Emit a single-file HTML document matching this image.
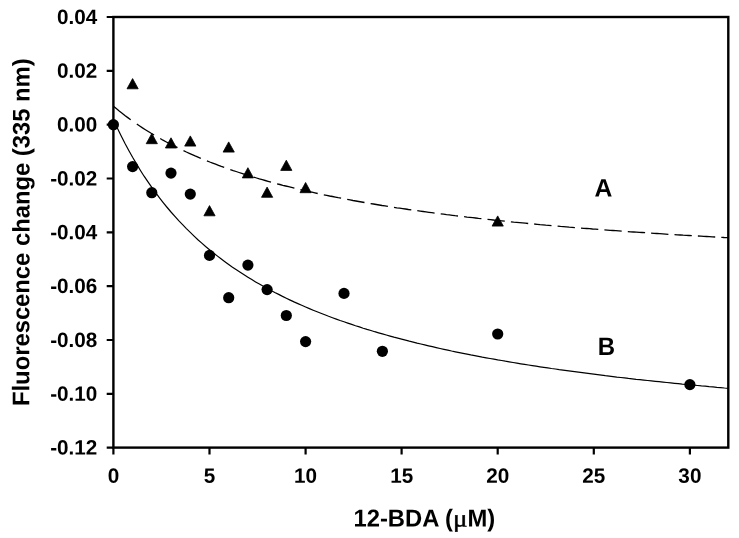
<!DOCTYPE html>
<html><head><meta charset="utf-8"><title>Fluorescence change</title>
<style>html,body{margin:0;padding:0;background:#fff}svg{display:block}text{font-family:"Liberation Sans",sans-serif;font-weight:bold;fill:#000}</style></head><body>
<svg width="739" height="538" viewBox="0 0 739 538">
<rect width="739" height="538" fill="#fff"/>
<path d="M113.4 106.2 L116.3 108.6 L119.2 111.0 L122.1 113.2 L124.9 115.5 L127.8 117.6 L130.7 119.7M136.8 124.0 L139.7 126.0 L142.5 127.9 L145.4 129.7 L148.3 131.5 L151.2 133.3 L154.1 135.0M160.2 138.5 L163.0 140.2 L165.9 141.7 L168.8 143.3 L171.7 144.8 L174.6 146.2 L177.5 147.7M183.5 150.6 L186.4 152.0 L189.3 153.3 L192.2 154.6 L195.1 155.9 L198.0 157.1 L200.8 158.3M206.9 160.8 L209.8 162.0 L212.7 163.1 L215.6 164.2 L218.5 165.3 L221.3 166.4 L224.2 167.4M230.3 169.6 L233.2 170.6 L236.1 171.5 L239.0 172.5 L241.8 173.4 L244.7 174.4 L247.6 175.3M253.7 177.1 L256.6 178.0 L259.4 178.9 L262.3 179.7 L265.2 180.5 L268.1 181.3 L271.0 182.1M277.1 183.8 L279.9 184.5 L282.8 185.3 L285.7 186.0 L288.6 186.7 L291.5 187.4 L294.4 188.1M300.4 189.6 L303.3 190.3 L306.2 190.9 L309.1 191.6 L312.0 192.2 L314.9 192.8 L317.7 193.5M323.8 194.8 L326.7 195.4 L329.6 196.0 L332.5 196.5 L335.4 197.1 L338.2 197.7 L341.1 198.2M347.2 199.4 L350.1 199.9 L353.0 200.5 L355.9 201.0 L358.7 201.5 L361.6 202.0 L364.5 202.5M370.6 203.6 L373.5 204.0 L376.3 204.5 L379.2 205.0 L382.1 205.5 L385.0 205.9 L387.9 206.4M394.0 207.3 L396.8 207.8 L399.7 208.2 L402.6 208.6 L405.5 209.0 L408.4 209.5 L411.3 209.9M417.3 210.7 L420.2 211.1 L423.1 211.5 L426.0 211.9 L428.9 212.3 L431.8 212.7 L434.6 213.1M440.7 213.9 L443.6 214.2 L446.5 214.6 L449.4 214.9 L452.3 215.3 L455.1 215.7 L458.0 216.0M464.1 216.7 L467.0 217.1 L469.9 217.4 L472.8 217.7 L475.6 218.0 L478.5 218.4 L481.4 218.7M487.5 219.4 L490.4 219.7 L493.2 220.0 L496.1 220.3 L499.0 220.6 L501.9 220.9 L504.8 221.2M510.9 221.8 L513.7 222.1 L516.6 222.3 L519.5 222.6 L522.4 222.9 L525.3 223.2 L528.2 223.5M534.2 224.0 L537.1 224.3 L540.0 224.6 L542.9 224.8 L545.8 225.1 L548.7 225.3 L551.5 225.6M557.6 226.1 L560.5 226.4 L563.4 226.6 L566.3 226.8 L569.2 227.1 L572.0 227.3 L574.9 227.6M581.0 228.1 L583.9 228.3 L586.8 228.5 L589.6 228.7 L592.5 229.0 L595.4 229.2 L598.3 229.4M604.4 229.9 L607.3 230.1 L610.1 230.3 L613.0 230.5 L615.9 230.7 L618.8 230.9 L621.7 231.1M627.8 231.6 L630.6 231.8 L633.5 232.0 L636.4 232.2 L639.3 232.4 L642.2 232.5 L645.1 232.7M651.1 233.1 L654.0 233.3 L656.9 233.5 L659.8 233.7 L662.7 233.9 L665.6 234.1 L668.4 234.3M674.5 234.6 L677.4 234.8 L680.3 235.0 L683.2 235.2 L686.1 235.3 L688.9 235.5 L691.8 235.7M697.9 236.0 L700.8 236.2 L703.7 236.4 L706.5 236.5 L709.4 236.7 L712.3 236.9 L715.2 237.0M721.3 237.4 L722.4 237.4 L723.6 237.5 L724.8 237.6 L726.0 237.6 L727.1 237.7 L728.3 237.7" fill="none" stroke="#000" stroke-width="1.3"/>
<path d="M113.4 119.5 L117.2 127.8 L121.1 135.7 L124.9 143.3 L128.8 150.5 L132.6 157.3 L136.5 163.9 L140.3 170.2 L144.1 176.2 L148.0 181.9 L151.8 187.4 L155.7 192.7 L159.5 197.8 L163.4 202.8 L167.2 207.5 L171.0 212.0 L174.9 216.4 L178.7 220.6 L182.6 224.7 L186.4 228.6 L190.3 232.4 L194.1 236.1 L197.9 239.7 L201.8 243.1 L205.6 246.5 L209.5 249.7 L213.3 252.8 L217.2 255.9 L221.0 258.8 L224.9 261.7 L228.7 264.5 L232.5 267.2 L236.4 269.8 L240.2 272.3 L244.1 274.8 L247.9 277.2 L251.8 279.6 L255.6 281.9 L259.4 284.1 L263.3 286.3 L267.1 288.4 L271.0 290.5 L274.8 292.5 L278.7 294.4 L282.5 296.4 L286.3 298.2 L290.2 300.1 L294.0 301.9 L297.9 303.6 L301.7 305.3 L305.6 307.0 L309.4 308.6 L313.2 310.2 L317.1 311.8 L320.9 313.3 L324.8 314.8 L328.6 316.3 L332.5 317.7 L336.3 319.1 L340.1 320.5 L344.0 321.8 L347.8 323.1 L351.7 324.4 L355.5 325.7 L359.4 326.9 L363.2 328.2 L367.0 329.4 L370.9 330.5 L374.7 331.7 L378.6 332.8 L382.4 333.9 L386.3 335.0 L390.1 336.1 L393.9 337.2 L397.8 338.2 L401.6 339.2 L405.5 340.2 L409.3 341.2 L413.2 342.1 L417.0 343.1 L420.9 344.0 L424.7 344.9 L428.5 345.8 L432.4 346.7 L436.2 347.6 L440.1 348.5 L443.9 349.3 L447.8 350.1 L451.6 351.0 L455.4 351.8 L459.3 352.6 L463.1 353.3 L467.0 354.1 L470.8 354.9 L474.7 355.6 L478.5 356.3 L482.3 357.1 L486.2 357.8 L490.0 358.5 L493.9 359.2 L497.7 359.9 L501.6 360.5 L505.4 361.2 L509.2 361.8 L513.1 362.5 L516.9 363.1 L520.8 363.8 L524.6 364.4 L528.5 365.0 L532.3 365.6 L536.1 366.2 L540.0 366.8 L543.8 367.3 L547.7 367.9 L551.5 368.5 L555.4 369.0 L559.2 369.6 L563.0 370.1 L566.9 370.7 L570.7 371.2 L574.6 371.7 L578.4 372.2 L582.3 372.7 L586.1 373.2 L589.9 373.7 L593.8 374.2 L597.6 374.7 L601.5 375.2 L605.3 375.7 L609.2 376.1 L613.0 376.6 L616.8 377.1 L620.7 377.5 L624.5 377.9 L628.4 378.4 L632.2 378.8 L636.1 379.3 L639.9 379.7 L643.8 380.1 L647.6 380.5 L651.4 380.9 L655.3 381.3 L659.1 381.7 L663.0 382.1 L666.8 382.5 L670.7 382.9 L674.5 383.3 L678.3 383.7 L682.2 384.1 L686.0 384.4 L689.9 384.8 L693.7 385.2 L697.6 385.5 L701.4 385.9 L705.2 386.2 L709.1 386.6 L712.9 386.9 L716.8 387.3 L720.6 387.6 L724.5 388.0 L728.3 388.3" fill="none" stroke="#000" stroke-width="1.2"/>
<rect x="113.4" y="17.0" width="614.9" height="430.6" fill="none" stroke="#000" stroke-width="2.4"/>
<path d="M106.7 17.0H113.4M106.7 70.8H113.4M106.7 124.7H113.4M106.7 178.5H113.4M106.7 232.3H113.4M106.7 286.1H113.4M106.7 340.0H113.4M106.7 393.8H113.4M106.7 447.6H113.4M113.4 447.6V454.6M209.5 447.6V454.6M305.6 447.6V454.6M401.6 447.6V454.6M497.7 447.6V454.6M593.8 447.6V454.6M689.9 447.6V454.6" fill="none" stroke="#000" stroke-width="2.2"/>
<path d="M132.6 78.6L138.2 88.8L127.0 88.8Z" fill="#000" stroke="#000" stroke-width="0.8" stroke-linejoin="round"/>
<path d="M151.8 133.5L157.4 143.7L146.2 143.7Z" fill="#000" stroke="#000" stroke-width="0.8" stroke-linejoin="round"/>
<path d="M171.0 137.8L176.6 148.0L165.4 148.0Z" fill="#000" stroke="#000" stroke-width="0.8" stroke-linejoin="round"/>
<path d="M190.3 135.9L195.9 146.1L184.7 146.1Z" fill="#000" stroke="#000" stroke-width="0.8" stroke-linejoin="round"/>
<path d="M209.5 205.6L215.1 215.8L203.9 215.8Z" fill="#000" stroke="#000" stroke-width="0.8" stroke-linejoin="round"/>
<path d="M228.7 141.9L234.3 152.1L223.1 152.1Z" fill="#000" stroke="#000" stroke-width="0.8" stroke-linejoin="round"/>
<path d="M247.9 167.7L253.5 177.9L242.3 177.9Z" fill="#000" stroke="#000" stroke-width="0.8" stroke-linejoin="round"/>
<path d="M267.1 187.1L272.7 197.3L261.5 197.3Z" fill="#000" stroke="#000" stroke-width="0.8" stroke-linejoin="round"/>
<path d="M286.3 160.2L291.9 170.4L280.7 170.4Z" fill="#000" stroke="#000" stroke-width="0.8" stroke-linejoin="round"/>
<path d="M305.6 182.5L311.2 192.7L300.0 192.7Z" fill="#000" stroke="#000" stroke-width="0.8" stroke-linejoin="round"/>
<path d="M497.7 215.9L503.3 226.1L492.1 226.1Z" fill="#000" stroke="#000" stroke-width="0.8" stroke-linejoin="round"/>
<circle cx="113.4" cy="124.7" r="5.6" fill="#000"/>
<circle cx="132.6" cy="166.6" r="5.6" fill="#000"/>
<circle cx="151.8" cy="192.7" r="5.6" fill="#000"/>
<circle cx="171.0" cy="173.1" r="5.6" fill="#000"/>
<circle cx="190.3" cy="194.1" r="5.6" fill="#000"/>
<circle cx="209.5" cy="255.4" r="5.6" fill="#000"/>
<circle cx="228.7" cy="297.7" r="5.6" fill="#000"/>
<circle cx="247.9" cy="265.1" r="5.6" fill="#000"/>
<circle cx="267.1" cy="289.6" r="5.6" fill="#000"/>
<circle cx="286.3" cy="315.5" r="5.6" fill="#000"/>
<circle cx="305.6" cy="341.6" r="5.6" fill="#000"/>
<circle cx="344.0" cy="293.4" r="5.6" fill="#000"/>
<circle cx="382.4" cy="351.3" r="5.6" fill="#000"/>
<circle cx="497.7" cy="334.0" r="5.6" fill="#000"/>
<circle cx="689.9" cy="384.6" r="5.6" fill="#000"/>
<text transform="translate(97.30 23.95) rotate(0.03)" font-size="20.7" text-anchor="end">0.04</text>
<text transform="translate(97.30 77.78) rotate(0.03)" font-size="20.7" text-anchor="end">0.02</text>
<text transform="translate(97.30 131.60) rotate(0.03)" font-size="20.7" text-anchor="end">0.00</text>
<text transform="translate(97.30 185.43) rotate(0.03)" font-size="20.7" text-anchor="end">-0.02</text>
<text transform="translate(97.30 239.25) rotate(0.03)" font-size="20.7" text-anchor="end">-0.04</text>
<text transform="translate(97.30 293.07) rotate(0.03)" font-size="20.7" text-anchor="end">-0.06</text>
<text transform="translate(97.30 346.90) rotate(0.03)" font-size="20.7" text-anchor="end">-0.08</text>
<text transform="translate(97.30 400.73) rotate(0.03)" font-size="20.7" text-anchor="end">-0.10</text>
<text transform="translate(97.30 454.55) rotate(0.03)" font-size="20.7" text-anchor="end">-0.12</text>
<text transform="translate(113.40 482.80) rotate(0.03)" font-size="20.7" text-anchor="middle">0</text>
<text transform="translate(209.48 482.80) rotate(0.03)" font-size="20.7" text-anchor="middle">5</text>
<text transform="translate(305.56 482.80) rotate(0.03)" font-size="20.7" text-anchor="middle">10</text>
<text transform="translate(401.63 482.80) rotate(0.03)" font-size="20.7" text-anchor="middle">15</text>
<text transform="translate(497.71 482.80) rotate(0.03)" font-size="20.7" text-anchor="middle">20</text>
<text transform="translate(593.79 482.80) rotate(0.03)" font-size="20.7" text-anchor="middle">25</text>
<text transform="translate(689.87 482.80) rotate(0.03)" font-size="20.7" text-anchor="middle">30</text>
<text transform="translate(603.50 196.60) rotate(0.03) scale(1.03 1.05)" font-size="24" text-anchor="middle">A</text>
<text transform="translate(606.30 355.00) rotate(0.03) scale(1 1.05)" font-size="24" text-anchor="middle">B</text>
<text transform="translate(353.50 526.40) rotate(0.03) scale(1 1.03)" font-size="23.8" text-anchor="start">12-BDA (<tspan style="font-family:'Liberation Serif',serif;font-weight:normal" stroke="#000" stroke-width="0.45" textLength="14.5" lengthAdjust="spacingAndGlyphs">μ</tspan>M)</text>
<text transform="translate(29.40 232.20) rotate(-89.97) scale(1 1.01)" font-size="23.8" text-anchor="middle">Fluorescence change (335 nm)</text>
</svg></body></html>
